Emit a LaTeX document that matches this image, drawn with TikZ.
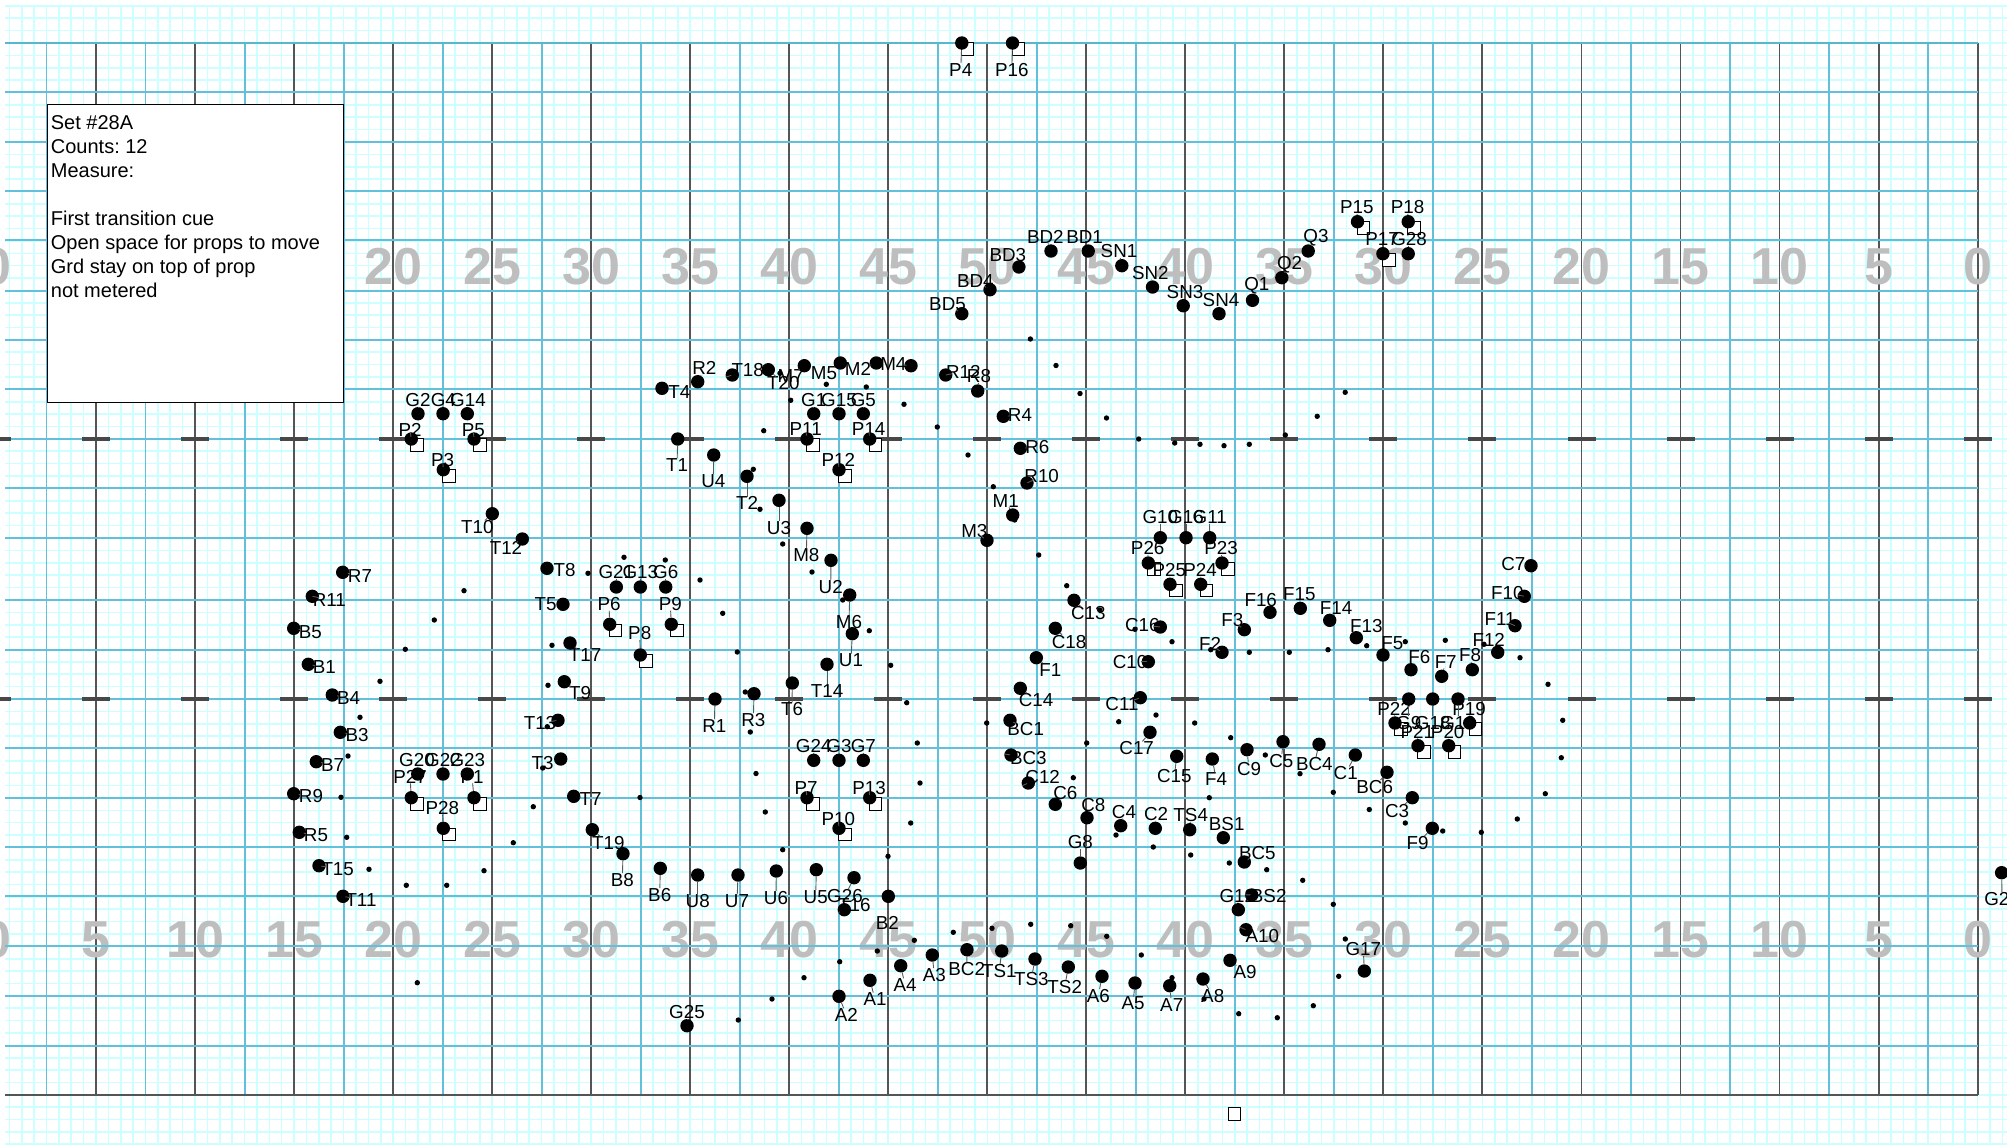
\documentclass[tikz,border=0pt]{standalone}
\usepackage{fontspec}
\setmainfont{Liberation Sans}
\usepackage{tikz}
\usetikzlibrary{positioning,calc}
\definecolor{gridfine}{HTML}{CCFFFF}
\definecolor{gridblue}{HTML}{62C0DA}
\definecolor{gridtop}{HTML}{58B6CE}
\definecolor{yarddark}{HTML}{555555}
\definecolor{yardnum}{HTML}{BEBEBE}
\tikzset{
  % rutnat
  mn/.style={draw=gridfine,line width=1.6pt},
  bl/.style={draw=gridblue,line width=1.9pt},
  yd/.style={draw=yarddark,line width=1.9pt},
  hs/.style={draw=yarddark!85!black,line width=3.2pt},
  yn/.style={inner sep=0pt,text=yardnum,font=\fontsize{52}{52}\selectfont\bfseries},
  % spelare
  pl/.style={circle,fill=black,inner sep=0pt,minimum size=13.4pt},
  sd/.style={circle,fill=black,inner sep=0pt,minimum size=5.4pt},
  tg/.style={inner sep=0pt,text=black,font=\fontsize{18.8}{18.8}\selectfont},
  ld/.style={draw=black!65,line width=0.9pt},
  pb/.style={rectangle,draw=black,fill=white,line width=1pt,inner sep=0pt,
             minimum size=12.6pt,anchor=north west,xshift=-1pt,yshift=0.7pt},
  % ruta
  setbox/.style={rectangle,draw=black,fill=white,line width=1pt,inner sep=0pt,
                 minimum width=296pt,minimum height=297.4pt,anchor=north west},
  settxt/.style={inner sep=0pt,anchor=north west,align=left,
                 font=\fontsize{20}{24}\selectfont},
}
\begin{document}
\frenchspacing
\begin{tikzpicture}[x=1pt,y=-1pt]
\useasboundingbox (0,0) rectangle (2007,1144);
  \foreach \i in {0,...,161}
    \draw[mn] ({9.35+12.379*\i},5) -- ({9.35+12.379*\i},1144);
  \foreach \i in {0,...,43}
    \draw[mn] (5,{5.9+12.37*\i}) -- (2007,{5.9+12.37*\i});
  \foreach \i in {-5,...,44}
    \draw[mn] (5,{600+12.37*\i}) -- (2007,{600+12.37*\i});
  \foreach \m in {0,...,19}
    \draw[bl] ({46.5+99.03*\m},43) -- ({46.5+99.03*\m},1095);
  \foreach \m in {1,...,20}
    \draw[yd] ({-3.03+99.03*\m},43) -- ({-3.03+99.03*\m},1095);
  \foreach \m/\v in {0/0,1/5,2/10,3/15,4/20,5/25,6/30,7/35,8/40,9/45,10/50,
                     11/45,12/40,13/35,14/30,15/25,16/20,17/15,18/10,19/5,20/0}{
    \node[yn] (ya\m) at ({-3.03+99.03*\m},266.5) {\v};
    \node[yn] (yb\m) at ({-3.03+99.03*\m},940) {\v};
  }
  \foreach \y in {92,141.7,190.7,240,290.7,340,389.3,438.8,488,537.7,600,649.7,
                  698.8,747.8,797.7,846.8,896,945.7,995.8,1045.7}
    \draw[bl] (5,\y) -- (1977.6,\y);
  \draw[bl,draw=gridtop] (5,43) -- (1977.6,43);
  \draw[yd] (5,1095) -- (1977.6,1095);
  \foreach \m in {0,...,20}{
    \draw[hs] ({-17+99.03*\m},439) -- ({11+99.03*\m},439);
    \draw[hs] ({-17+99.03*\m},699) -- ({11+99.03*\m},699);
  }
  % kommande plats
  \foreach \x/\y [count=\i] in {464/590.7,434.3/620,405.3/649.3,380/681.3,360/717.3,348/756,341/797.3,
    346.7/837.3,369/869.3,406.3/885.3,446.7/885.3,484/870.7,513.3/842.7,533.3/806.7,542.7/768,
    547.3/726.7,548/685.3,552/645.3,588/573.3,624/557.3,665.3/560,700/580,722.7/613.3,737.3/652,
    745.3/692,750.3/732,756/773.5,765.3/812,782.7/849.7,640/797.5,417.3/982.7,738.3/1020,
    753.3/469.3,760/509.3,782.7/544,812/572,842.7/600,869.3/630.7,890.7/665.3,906.7/702.7,
    763.7/430.7,790.7/400.3,780/373.3,826.3/384.3,866.3/387,904/404.3,937.3/427,968/455,
    993.3/486.7,1014.7/520,1038.7/555,1056/365.5,888/856.3,910.7/823,920/783,917.3/743,
    986.7/723,953.3/932.3,992/928.3,1030.7/924.3,914.3/940.3,877.3/951,839.7/961.7,804/977.7,
    772/999,1030.4/339,1080/393.5,1106.5/418,1317.2/416.3,1345.2/392.3,1138.7/439,1174.7/443,
    1200/444.3,1224/445.7,1249.3/444.3,1285.3/435,1066.7/585.7,1099.7/610,1135/629.3,1172/641.7,
    1210.7/649.7,1249.3/652.3,1289.3/652.3,1328/649.7,1156/715,1366.7/645.7,1405.3/641.7,
    1445.3/640.3,1484/644.3,1520/657.7,1548/684.3,1562.7/720.3,1561.3/757.7,1545.3/793.7,
    1517.3/819,1481.3/832.3,1442.7/831,1405.3/823,1369.3/809.5,1333.3/792.3,1300/773.7,
    1086.7/743,1118.7/721.7,1194.7/723,1230.7/737.7,1265.3/755,1073.3/777.7,1116/835,1153.3/847,
    1190.7/855,1229.3/863,1266.7/869.7,1302.7/880.3,1333.3/904.3,1345.3/939,1338.7/976.3,
    1313.3/1005.7,1277.3/1017.7,1238.7/1013.7,1204/999,1172/977.7,1141.3/955,1106.7/936.3,
    1070.7/925.7,1209.3/797.7}
    \node[sd] (d\i) at (\x,\y) {};
  % rekvisita
  \node[pb] (freebox) at (1228.5,1107.7) {};
  \foreach \n/\x/\y/\lx/\ly in {P2/411.3/439/410/430,P5/474/439/473.3/430,P3/443.3/469.7/442.7/460.3,
    P27/411.3/797.7/410/776.7,P1/474/797.7/472/776.7,P28/443.3/828.3/442.3/807.7,
    P6/609.7/624.3/609/603.7,P9/671.3/624.3/670.3/603.7,P8/640.3/655/639.7/633.3,
    P11/807/439/805.7/429,P14/869.7/439/868.7/429,P12/839/469.7/838.3/460,
    P7/807/797.7/806/788.3,P13/869.7/797.7/869/788.3,P10/839/828.3/838.3/819.3,
    P4/961.8/43/960.7/69.7,P16/1012.5/43/1011.8/69.7,P15/1357.5/221.7/1356.8/207.3,
    P18/1408.2/221.7/1407.5/207.3,P17/1382.9/253.7/1382/239.3,
    P26/1148.3/563/1147.7/548.3,P23/1222/563/1221/548.3,P25/1170/584.3/1169.3/570,
    P24/1200.7/584.3/1200/570,P22/1395/723/1394/708.7,P19/1469.7/723/1469/708.7,
    P21/1418/745.7/1417.3/731.7,P20/1448.7/745.7/1447.7/731.7}{
    \node[pb] (box\n) at (\x,\y) {};
    \node[pl] (\n) at (\x,\y) {};
    \node[tg] (\n l) at (\lx,\ly) {\n};
    \draw[ld] (\n) -- (\n l);
  }
  % spelare
  \foreach \n/\x/\y/\lx/\ly in {G2/418/413.7/418/400,G4/443/413.7/443.3/400,G14/467.3/413.7/468/400,
    T10/492.3/513.7/477.3/527.3,T12/522.3/539/506/548.3,R7/342.7/572.3/360/575.7,
    R11/312.3/596.3/329.3/599.7,B5/293.7/628.3/310.3/631.7,B1/308.3/664.3/324.3/667.3,
    B4/332.3/695/348.7/697.7,B3/340.3/732.3/357/735.3,B7/316.3/761.7/332.7/764.7,
    R9/293.7/793.7/311/796.3,R5/299.3/832.3/316/835.3,T15/319/865.7/337.7/868.7,
    T11/343/896.3/361/899.7,T8/547/568.3/564.7/570,T5/563/604.3/545.7/604.3,
    T17/570/643/585/655.3,T9/564.3/681.7/580/693.3,T13/558/720.3/540/723.3,
    T3/560.7/759/542.7/763.3,T7/573.7/796.3/590.7/799,T19/592.3/829.7/608.3/843.3,
    B8/623/853.7/622.3/880,B6/660.3/868.3/659.7/895,U8/697.7/875/697.7/901,U7/738/875/737/901,
    G21/616.3/587/616.3/572.3,G13/640.3/587/640.3/572.3,G6/665.7/587/665.7/572.3,
    G20/417.7/774/417/760,G22/443/774/443/760,G23/467.3/774/467.3/760,
    R1/715/699/714.3/725.7,R3/754/693.7/753.3/720,G25/687/1025.7/687/1011.7,
    T4/662/388.3/679.3/391.7,R2/697.7/381.7/704.3/368.3,T18/732.3/375/747.7/370,
    T20/768.3/369.7/783.3/383.3,M7/804.3/365.7/790.7/376,M5/840.3/363/824/373.3,
    M2/876.3/363/858/369.3,M4/911/365.7/893.3/364,R12/945.7/375/963.3/371.7,
    R8/977.7/391/979/376,R4/1003.3/416.3/1020/415.3,R6/1020.3/448.3/1037.3/447.3,
    R10/1027/483/1041.7/476,M1/1012.7/515/1005.7/500.7,M3/987/540.3/974.3/531.3,
    G1/813.7/413.7/813.7/400,G15/839/413.7/839/400,G5/863.3/413.7/863.3/400,
    T1/677.7/439/677/465,U4/713.7/455/713.3/481,T2/747/476.3/747/503.3,U3/779/500.3/779/527.7,
    M8/807/528.3/806.3/555.3,U2/831/560.3/830.7/587,M6/849.7/595/849/621.7,
    U1/852.3/633.7/851/660.3,T14/827/664.3/827/691,T6/792.3/683/792/709.3,
    G24/813.7/760.3/813.7/745.7,G3/839/760.3/839/745.7,G7/863.3/760.3/863.3/745.7,
    U6/776.3/871/776/897.7,U5/816.3/869.7/815.7/896.7,G26/854/877.7/845/896,
    T16/844.3/909.7/854.3/905,B2/888.3/896.3/887.3/923.3,A1/870/980.3/875/999.3,
    A2/839/996.3/846.3/1015,A4/900.7/965.7/905/985,A3/932.3/955/934.3/975,
    BC2/967/949.7/966.7/969.3,TS1/1001.7/951/999.3/970.7,TS3/1035/959/1031.3/979.3,
    TS2/1068.3/967/1064.7/986.7,BD2/1051/251/1045.4/236.7,BD1/1088.2/251/1084.6/236.7,
    SN1/1121.8/265.7/1119/251.3,SN2/1152.5/287/1150.4/272.7,SN3/1183.2/305.7/1185/291.7,
    SN4/1219/313.7/1221/300,Q1/1252.5/300.3/1256.8/285.7,Q2/1281.8/277.7/1289.6/264.3,
    Q3/1308.2/251/1316/237.3,G28/1408.2/253.7/1409/239.3,BD3/1018.9/267/1007.9/255.3,
    BD4/990/289.7/975.4/280.7,BD5/961.8/313.7/947.5/304.3,
    G10/1160.3/537.7/1160.3/516.7,G16/1186/537.7/1186/516.7,G11/1209.7/537.7/1209.7/516.7,
    C13/1074/600.3/1088.3/613.3,C18/1055.3/628.3/1069/641.7,C16/1160.3/627/1142.3/625,
    C10/1148.3/661.7/1130/661.7,C11/1140.3/697.7/1122/704.3,F1/1036.3/657.7/1050.3/669.7,
    C14/1020.3/688.3/1036/700,F2/1222/652.3/1210/644,F3/1244.3/629.7/1232.3/620.3,
    F16/1270/612.3/1260.7/600.3,F15/1300.3/608.3/1299.3/593.7,F14/1329.7/620.3/1336/608.3,
    BC1/1010/720.3/1025.7/729,BC3/1011/755/1028.3/757.7,C12/1028.3/783/1042.7/776.7,
    C6/1055.3/804.3/1065.3/793.3,C8/1087/817.7/1093.3/804.7,G8/1080.3/863/1080.3/842,
    C4/1120.7/825.7/1124/811.7,C2/1155.3/828.3/1156/814,TS4/1189.7/829.7/1190.7/815.3,
    BS1/1223.3/837.7/1226.7/824,BC5/1244.3/862/1257.3/852.7,BS2/1251.7/895/1268.7/895.7,
    G12/1238.3/909.7/1237.3/895.7,A10/1246/929.7/1262.3/936.3,A9/1230/960.3/1245/972.3,
    A8/1203/979/1212.7/996,A7/1169.7/985.7/1171.7/1005,A5/1135/983/1133/1003.3,
    A6/1102/976.3/1098.3/996,C17/1150/732.3/1136.7/748.3,C15/1176.7/756.3/1174.3/776.3,
    F4/1212.3/759/1216/779,C9/1247/749.7/1249/769.3,C5/1283/741.7/1281.3/761,
    BC4/1319/744.3/1314.3/764,C1/1355.3/755/1345.7/773.3,BC6/1387/772.3/1374.7/787,
    C3/1412.3/797.7/1397/811,F9/1432.3/828.3/1417.5/843,F5/1383/655/1392.3/643.3,
    F13/1356.3/637.7/1366.3/626,F6/1411/669.7/1419.3/656.7,F7/1441.7/676.3/1445.7/661.7,
    F8/1472.3/669.7/1470/655.3,F12/1497.7/652.3/1488.7/640,F11/1515/625.7/1500/619,
    F10/1524.3/596.3/1507.3/592.7,C7/1531/565.7/1513.3/564.3,
    G9/1408.7/699/1408.7/722.7,G18/1432.7/699/1432.7/722.7,G19/1458/699/1458/722.7,
    G17/1364.3/971/1363.3/949.3,G27/2001.6/872.7/2002/899}{
    \node[pl] (\n) at (\x,\y) {};
    \node[tg] (\n l) at (\lx,\ly) {\n};
    \draw[ld] (\n) -- (\n l);
  }
  % ruta
  \node[setbox] (setbox) at (46.7,104.3) {};
  \node[settxt] (settxt) at (50.7,115) {Set \#28A\\Counts: 12\\Measure:\\~\\First transition cue\\
    Open space for props to move\\Grd stay on top of prop\\not metered};
\end{tikzpicture}
\end{document}
